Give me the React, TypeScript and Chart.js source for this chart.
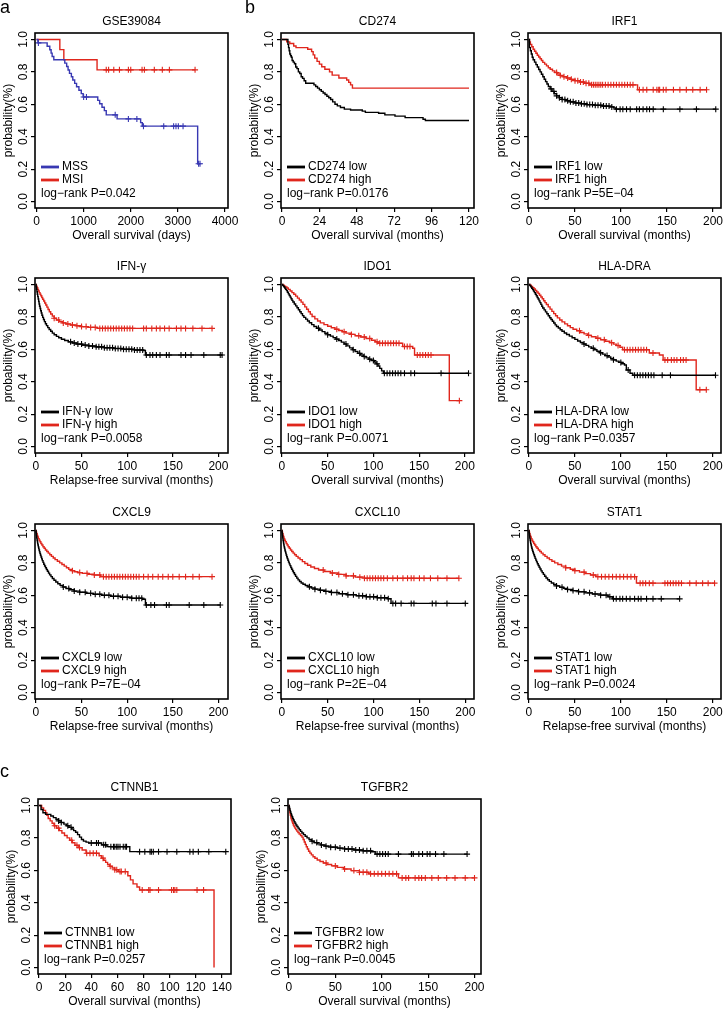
import React, { useEffect, useRef } from 'react';
import { Chart, registerables } from 'chart.js';

Chart.register(...registerables);

const FONT = '"Liberation Sans", Arial, Helvetica, sans-serif';
const RED = '#e0261c';
const BLACK = '#000000';
const BLUE = '#3838b2';

// ---------------- tick values ----------------
const Y_TICKS = [0, 0.2, 0.4, 0.6, 0.8, 1.0];
const DAYS_TICKS = [0, 1000, 2000, 3000, 4000];
const CD274_TICKS = [0, 24, 48, 72, 96, 120];
const MONTH200_TICKS = [0, 50, 100, 150, 200];
const CTNNB1_TICKS = [0, 20, 40, 60, 80, 100, 120, 140];

// ---------------- GSE39084 ----------------
const GSE_MSS_T = [30, 226, 282, 310, 332, 367, 600, 640, 670, 700, 740, 770, 810, 850, 900, 950, 990, 1300, 1340, 1390, 1440, 1480, 1710, 2210, 2245, 3420];
const GSE_MSS_S = [0.979, 0.958, 0.937, 0.916, 0.895, 0.875, 0.854, 0.833, 0.812, 0.791, 0.77, 0.75, 0.729, 0.708, 0.687, 0.666, 0.645, 0.624, 0.603, 0.582, 0.561, 0.535, 0.51, 0.487, 0.465, 0.233];
const GSE_MSS_C = [40, 1000, 1060, 1670, 1950, 2130, 2270, 2700, 2910, 2960, 3010, 3110, 3440, 3470];
const GSE_MSS_END = 3470;
const GSE_MSI_T = [495, 580, 1285];
const GSE_MSI_S = [0.9375, 0.875, 0.8125];
const GSE_MSI_C = [1480, 1530, 1640, 1760, 1950, 2000, 2240, 2290, 2500, 2670, 2820, 3365];
const GSE_MSI_END = 3365;

// ---------------- CD274 ----------------
const CD274_LOW_T = [3.8, 4.2, 4.6, 5.0, 5.5, 6.0, 6.5, 7.2, 8.0, 8.8, 9.6, 10.5, 11.4, 12.3, 13.2, 14.2, 15.2, 20.5, 21.6, 22.8, 24.0, 25.2, 26.4, 27.6, 28.8, 30.0, 31.2, 32.5, 34.0, 35.5, 37.5, 40.0, 44.0, 51.5, 53.5, 62.0, 66.0, 72.5, 79.0, 90.5, 92.0];
const CD274_LOW_S = [0.97, 0.95, 0.93, 0.91, 0.9, 0.89, 0.87, 0.86, 0.85, 0.83, 0.82, 0.8, 0.79, 0.77, 0.76, 0.745, 0.73, 0.72, 0.71, 0.7, 0.69, 0.68, 0.67, 0.66, 0.65, 0.64, 0.63, 0.615, 0.6, 0.59, 0.58, 0.57, 0.565, 0.558, 0.55, 0.545, 0.535, 0.527, 0.518, 0.508, 0.5];
const CD274_LOW_C: number[] = [];
const CD274_LOW_END = 120;
const CD274_HIGH_T = [3.0, 5.0, 7.5, 9.0, 16.5, 19.0, 20.0, 21.0, 22.5, 24.0, 25.5, 27.5, 30.5, 32.2, 36.5, 41.5, 42.8, 44.0, 45.2];
const CD274_HIGH_S = [0.985, 0.975, 0.96, 0.95, 0.94, 0.925, 0.905, 0.885, 0.865, 0.848, 0.832, 0.816, 0.8, 0.78, 0.762, 0.75, 0.735, 0.72, 0.7];
const CD274_HIGH_C: number[] = [];
const CD274_HIGH_END = 120;

// ---------------- IRF1 ----------------
const IRF1_LOW_T = [0.5, 1.5, 2.5, 3.5, 4.5, 6, 7.5, 9, 10.5, 12, 13.5, 15, 16.5, 18, 19.5, 21, 23, 25, 27.5, 30, 33, 36, 40, 45, 50, 56, 63, 71, 80, 88, 92, 94];
const IRF1_LOW_S = [0.95, 0.93, 0.91, 0.89, 0.875, 0.86, 0.845, 0.83, 0.815, 0.8, 0.785, 0.77, 0.755, 0.74, 0.725, 0.71, 0.695, 0.68, 0.665, 0.652, 0.64, 0.63, 0.622, 0.615, 0.608, 0.603, 0.598, 0.594, 0.589, 0.584, 0.578, 0.57];
const IRF1_LOW_C = [24, 27, 30, 33, 36, 39, 42, 45, 48, 51, 54, 57, 60, 63, 66, 69, 72, 75, 78, 81, 84, 87, 90, 95, 99, 102, 106, 110, 117, 120, 124, 128, 131, 135, 146, 164, 182, 203];
const IRF1_LOW_END = 203;
const IRF1_HIGH_T = [0.5, 1.5, 3, 4.5, 6, 7.5, 9, 10.5, 12, 13.5, 15, 17, 19, 21, 23, 25.5, 28, 31, 34, 37, 41, 45, 50, 55, 60, 66, 118];
const IRF1_HIGH_S = [0.985, 0.97, 0.955, 0.94, 0.927, 0.915, 0.903, 0.892, 0.881, 0.87, 0.859, 0.848, 0.837, 0.826, 0.816, 0.806, 0.796, 0.787, 0.778, 0.77, 0.762, 0.754, 0.746, 0.738, 0.73, 0.72, 0.69];
const IRF1_HIGH_C = [30, 34, 38, 42, 46, 50, 53, 56, 59, 62, 65, 68, 70, 72, 74, 76, 78, 80, 83, 86, 89, 92, 95, 98, 101, 104, 107, 110, 113, 120, 124, 128, 135, 139, 141, 142, 146, 149, 157, 164, 171, 178, 186, 193];
const IRF1_HIGH_END = 193;

// ---------------- IFN-γ ----------------
const IFNG_LOW_T = [0.3, 0.7, 1.1, 1.5, 2.0, 2.5, 3.0, 3.5, 4.0, 4.6, 5.2, 5.9, 6.6, 7.4, 8.3, 9.3, 10.4, 11.6, 13, 14.5, 16.2, 18, 20, 22.5, 25, 28, 31.5, 35.5, 40, 45, 51, 58, 66, 75, 85, 96, 108, 118, 120];
const IFNG_LOW_S = [0.985, 0.97, 0.955, 0.94, 0.925, 0.91, 0.895, 0.88, 0.866, 0.852, 0.838, 0.824, 0.81, 0.797, 0.784, 0.771, 0.758, 0.746, 0.734, 0.722, 0.711, 0.7, 0.69, 0.68, 0.671, 0.662, 0.654, 0.646, 0.639, 0.632, 0.626, 0.62, 0.615, 0.61, 0.605, 0.6, 0.596, 0.592, 0.565];
const IFNG_LOW_C = [38, 42, 46, 50, 54, 58, 62, 66, 69, 72, 75, 78, 81, 84, 87, 90, 93, 96, 99, 102, 105, 108, 111, 114, 117, 121, 125, 128, 132, 136, 143, 146, 159, 164, 170, 184, 202, 204];
const IFNG_LOW_END = 204;
const IFNG_HIGH_T = [0.5, 1.2, 2.0, 2.8, 3.6, 4.5, 5.4, 6.4, 7.4, 8.5, 9.6, 10.8, 12, 13.3, 14.7, 16.2, 18, 20, 22.5, 25.5, 29, 33, 38, 44, 50, 57, 67];
const IFNG_HIGH_S = [0.99, 0.98, 0.97, 0.96, 0.95, 0.94, 0.93, 0.92, 0.909, 0.898, 0.886, 0.873, 0.86, 0.846, 0.832, 0.818, 0.805, 0.792, 0.781, 0.771, 0.763, 0.756, 0.75, 0.745, 0.74, 0.735, 0.729];
const IFNG_HIGH_C = [20, 25, 30, 35, 40, 45, 50, 55, 60, 65, 70, 73, 76, 79, 82, 85, 88, 91, 94, 97, 100, 103, 106, 118, 121, 127, 132, 136, 141, 146, 154, 159, 164, 172, 182, 193];
const IFNG_HIGH_END = 193;

// ---------------- IDO1 ----------------
const IDO1_LOW_T = [1, 2, 3, 4, 5, 6, 7, 8, 9, 10, 11, 12, 13.5, 15, 16.5, 18, 19.5, 21, 22.5, 24, 26, 28, 30, 32.5, 35, 38, 41, 44, 47, 50, 53, 56, 59, 62, 65, 68, 71, 74, 77, 80, 83, 86, 89, 92, 95, 98, 101, 103, 105, 107, 109, 111];
const IDO1_LOW_S = [0.993, 0.986, 0.978, 0.97, 0.962, 0.952, 0.942, 0.932, 0.922, 0.912, 0.902, 0.892, 0.88, 0.868, 0.856, 0.844, 0.832, 0.82, 0.808, 0.797, 0.786, 0.775, 0.764, 0.752, 0.741, 0.73, 0.719, 0.709, 0.699, 0.69, 0.681, 0.672, 0.663, 0.654, 0.644, 0.633, 0.621, 0.609, 0.597, 0.586, 0.575, 0.565, 0.556, 0.547, 0.539, 0.531, 0.522, 0.51, 0.497, 0.482, 0.467, 0.452];
const IDO1_LOW_C = [40, 50, 60, 70, 78, 85, 90, 96, 100, 104, 112, 115, 118, 121, 124, 127, 130, 134, 141, 145, 174, 204];
const IDO1_LOW_END = 204;
const IDO1_HIGH_T = [1, 2.5, 4, 5.5, 7, 9, 11, 13, 15, 17, 19, 21, 23, 25, 27, 29, 31, 33, 36, 39, 42, 46, 50, 54, 58, 62, 66, 70, 75, 80, 86, 92, 98, 102, 105, 132, 143, 145, 183];
const IDO1_HIGH_S = [0.995, 0.99, 0.985, 0.978, 0.97, 0.96, 0.95, 0.94, 0.928, 0.916, 0.904, 0.891, 0.877, 0.862, 0.847, 0.832, 0.817, 0.802, 0.788, 0.775, 0.763, 0.752, 0.742, 0.733, 0.724, 0.716, 0.708, 0.7, 0.692, 0.684, 0.676, 0.667, 0.656, 0.646, 0.637, 0.617, 0.606, 0.565, 0.283];
const IDO1_HIGH_C = [60, 68, 76, 84, 90, 96, 104, 107, 110, 113, 116, 119, 122, 125, 128, 134, 137, 140, 148, 151, 154, 157, 160, 163, 194];
const IDO1_HIGH_END = 194;

// ---------------- HLA-DRA ----------------
const HLA_LOW_T = [1, 2, 3, 4, 5, 6, 7, 8, 9, 10, 11, 12, 13, 14, 15, 16.5, 18, 19.5, 21, 22.5, 24, 25.5, 27, 28.5, 30, 32, 34, 36, 38.5, 41, 44, 47, 50, 53, 56, 59, 62, 65, 68, 71, 74, 77, 80, 83, 86, 89, 92, 95, 98, 101, 104, 106, 110, 113];
const HLA_LOW_S = [0.993, 0.985, 0.977, 0.968, 0.959, 0.95, 0.94, 0.93, 0.92, 0.91, 0.899, 0.888, 0.877, 0.866, 0.855, 0.843, 0.831, 0.819, 0.807, 0.795, 0.784, 0.773, 0.762, 0.751, 0.741, 0.731, 0.721, 0.711, 0.701, 0.691, 0.681, 0.671, 0.661, 0.651, 0.642, 0.633, 0.624, 0.615, 0.606, 0.597, 0.588, 0.579, 0.57, 0.561, 0.552, 0.543, 0.535, 0.527, 0.519, 0.511, 0.503, 0.472, 0.452, 0.44];
const HLA_LOW_C = [60, 70, 78, 85, 92, 100, 108, 115, 118, 121, 124, 127, 130, 133, 136, 145, 154, 203];
const HLA_LOW_END = 203;
const HLA_HIGH_T = [1, 2.5, 4, 5.5, 7, 8.5, 10, 11.5, 13, 14.5, 16, 17.5, 19, 21, 23, 25, 27, 29, 31, 33.5, 36, 39, 42, 45, 48, 52, 56, 60, 64, 68, 73, 78, 83, 88, 92, 95, 99, 102, 131, 142, 146, 182];
const HLA_HIGH_S = [0.995, 0.988, 0.98, 0.972, 0.963, 0.954, 0.944, 0.934, 0.923, 0.912, 0.9, 0.888, 0.876, 0.862, 0.848, 0.834, 0.82, 0.807, 0.794, 0.781, 0.769, 0.757, 0.745, 0.734, 0.724, 0.714, 0.704, 0.695, 0.686, 0.677, 0.668, 0.659, 0.65, 0.641, 0.632, 0.623, 0.613, 0.597, 0.577, 0.565, 0.534, 0.35];
const HLA_HIGH_C = [55, 65, 75, 82, 90, 97, 104, 107, 110, 113, 116, 119, 122, 125, 128, 135, 148, 151, 155, 158, 161, 165, 168, 171, 186, 193];
const HLA_HIGH_END = 193;

// ---------------- CXCL9 ----------------
const CXCL9_LOW_T = [0.2, 0.4, 0.6, 0.8, 1.0, 1.3, 1.6, 1.9, 2.2, 2.6, 3.0, 3.4, 3.9, 4.4, 5.0, 5.6, 6.3, 7.0, 7.8, 8.6, 9.5, 10.5, 11.5, 12.6, 13.8, 15, 16.5, 18, 19.8, 21.8, 24, 26.5, 29.5, 33, 37, 42, 48, 55, 63, 72, 82, 93, 105, 117, 120];
const CXCL9_LOW_S = [0.99, 0.98, 0.97, 0.96, 0.95, 0.94, 0.93, 0.92, 0.91, 0.9, 0.89, 0.88, 0.869, 0.858, 0.847, 0.836, 0.825, 0.814, 0.803, 0.792, 0.781, 0.77, 0.759, 0.748, 0.737, 0.726, 0.715, 0.704, 0.693, 0.682, 0.671, 0.661, 0.651, 0.642, 0.634, 0.626, 0.619, 0.612, 0.606, 0.6, 0.594, 0.588, 0.582, 0.576, 0.54];
const CXCL9_LOW_C = [30, 36, 42, 48, 54, 60, 65, 70, 75, 80, 85, 90, 95, 100, 105, 110, 113, 116, 121, 126, 130, 143, 146, 168, 184, 202];
const CXCL9_LOW_END = 202;
const CXCL9_HIGH_T = [0.3, 0.8, 1.4, 2.0, 2.7, 3.5, 4.4, 5.4, 6.5, 7.7, 9, 10.4, 11.9, 13.5, 15.2, 17, 19, 21, 23.5, 26, 28.5, 31, 33.5, 36, 39, 42, 46, 51, 57, 64, 71];
const CXCL9_HIGH_S = [0.99, 0.98, 0.97, 0.96, 0.95, 0.94, 0.93, 0.92, 0.91, 0.9, 0.89, 0.88, 0.87, 0.86, 0.85, 0.84, 0.83, 0.82, 0.81, 0.8, 0.79, 0.78, 0.77, 0.76, 0.752, 0.745, 0.74, 0.735, 0.73, 0.725, 0.715];
const CXCL9_HIGH_C = [40, 48, 56, 64, 70, 74, 77, 80, 83, 86, 89, 92, 95, 98, 101, 104, 107, 110, 113, 118, 123, 128, 134, 139, 145, 150, 157, 164, 172, 179, 193];
const CXCL9_HIGH_END = 193;

// ---------------- CXCL10 ----------------
const CXCL10_LOW_T = [0.2, 0.4, 0.6, 0.8, 1.0, 1.2, 1.5, 1.8, 2.1, 2.4, 2.8, 3.2, 3.6, 4.1, 4.6, 5.2, 5.8, 6.5, 7.2, 8.0, 8.8, 9.7, 10.6, 11.6, 12.6, 13.7, 14.9, 16.2, 17.6, 19.2, 21, 23, 25.5, 28.5, 32, 36, 41, 47, 54, 62, 71, 81, 92, 104, 115, 119];
const CXCL10_LOW_S = [0.99, 0.98, 0.97, 0.96, 0.95, 0.94, 0.93, 0.92, 0.91, 0.9, 0.89, 0.88, 0.87, 0.86, 0.849, 0.838, 0.827, 0.816, 0.805, 0.794, 0.783, 0.772, 0.761, 0.75, 0.739, 0.728, 0.717, 0.706, 0.695, 0.685, 0.676, 0.668, 0.66, 0.652, 0.645, 0.638, 0.631, 0.624, 0.617, 0.61, 0.603, 0.597, 0.591, 0.585, 0.579, 0.55];
const CXCL10_LOW_C = [30, 36, 42, 48, 54, 60, 66, 72, 78, 84, 88, 92, 96, 100, 104, 108, 112, 116, 121, 124, 130, 141, 144, 164, 168, 180, 200];
const CXCL10_LOW_END = 200;
const CXCL10_HIGH_T = [0.3, 0.7, 1.2, 1.7, 2.3, 3.0, 3.8, 4.7, 5.7, 6.8, 8.0, 9.3, 10.7, 12.2, 13.8, 15.6, 17.6, 19.8, 22.3, 25, 28, 31.5, 35.5, 40, 46, 53, 61, 70, 80, 90];
const CXCL10_HIGH_S = [0.99, 0.98, 0.97, 0.96, 0.95, 0.94, 0.93, 0.92, 0.91, 0.9, 0.89, 0.88, 0.87, 0.86, 0.85, 0.84, 0.83, 0.82, 0.808, 0.796, 0.785, 0.775, 0.765, 0.756, 0.747, 0.738, 0.729, 0.72, 0.712, 0.705];
const CXCL10_HIGH_C = [45, 55, 62, 70, 78, 85, 90, 93, 96, 99, 102, 105, 108, 111, 115, 121, 126, 132, 137, 141, 144, 150, 155, 162, 170, 180, 193];
const CXCL10_HIGH_END = 193;

// ---------------- STAT1 ----------------
const STAT1_LOW_T = [0.2, 0.4, 0.6, 0.8, 1.0, 1.3, 1.6, 1.9, 2.3, 2.7, 3.1, 3.6, 4.1, 4.7, 5.3, 6.0, 6.7, 7.5, 8.3, 9.2, 10.1, 11.1, 12.1, 13.2, 14.4, 15.7, 17.1, 18.6, 20.3, 22.2, 24.4, 27, 30, 33.5, 37.5, 42, 47.5, 54, 61, 69, 78, 86, 91];
const STAT1_LOW_S = [0.99, 0.98, 0.97, 0.96, 0.95, 0.94, 0.93, 0.92, 0.91, 0.9, 0.89, 0.88, 0.87, 0.86, 0.85, 0.839, 0.828, 0.817, 0.806, 0.795, 0.784, 0.773, 0.762, 0.751, 0.74, 0.729, 0.718, 0.707, 0.696, 0.686, 0.676, 0.667, 0.658, 0.65, 0.643, 0.636, 0.629, 0.622, 0.615, 0.608, 0.601, 0.591, 0.578];
const STAT1_LOW_C = [30, 36, 42, 48, 54, 60, 66, 72, 78, 84, 88, 92, 95, 99, 102, 106, 110, 115, 119, 122, 128, 135, 144, 164];
const STAT1_LOW_END = 164;
const STAT1_HIGH_T = [0.3, 0.7, 1.2, 1.8, 2.5, 3.3, 4.2, 5.2, 6.3, 7.5, 8.8, 10.2, 11.8, 13.5, 15.4, 17.5, 19.8, 22.3, 25, 28, 31.5, 35.5, 40, 45, 50, 55, 61, 67, 73, 117];
const STAT1_HIGH_S = [0.99, 0.98, 0.97, 0.96, 0.95, 0.94, 0.93, 0.92, 0.91, 0.9, 0.89, 0.88, 0.87, 0.86, 0.85, 0.84, 0.83, 0.82, 0.81, 0.8, 0.79, 0.78, 0.77, 0.761, 0.752, 0.743, 0.734, 0.725, 0.715, 0.675];
const STAT1_HIGH_C = [40, 50, 60, 70, 75, 79, 83, 87, 91, 95, 99, 103, 107, 111, 115, 121, 124, 127, 131, 135, 148, 151, 154, 157, 160, 163, 166, 175, 182, 189, 195, 202];
const STAT1_HIGH_END = 202;

// ---------------- CTNNB1 ----------------
const CTNNB1_LOW_T = [1.5, 3, 5, 9, 11, 13, 15, 17, 19, 21, 23, 25, 26.5, 28, 29.5, 31, 32.5, 34, 36, 38, 48, 52, 69.5];
const CTNNB1_LOW_S = [0.975, 0.955, 0.945, 0.935, 0.925, 0.915, 0.905, 0.895, 0.885, 0.875, 0.865, 0.855, 0.845, 0.835, 0.82, 0.805, 0.79, 0.78, 0.774, 0.768, 0.757, 0.746, 0.715];
const CTNNB1_LOW_C = [15, 17, 22, 24.5, 40, 44, 45.5, 49.5, 51, 55, 57, 58, 59.5, 60.5, 62, 64.5, 66, 67, 77, 81, 85, 86, 87.5, 91.5, 98, 105.5, 115.5, 118, 122, 130, 143];
const CTNNB1_LOW_END = 143;
const CTNNB1_HIGH_T = [2, 3.5, 5, 6, 7, 8.5, 10, 11.5, 13.5, 15.5, 17.5, 19.5, 21.5, 23.5, 25.5, 27.5, 30, 33, 36, 46, 48, 49.5, 51, 52.5, 54, 56, 58, 61, 68, 70, 72, 75, 77, 134];
const CTNNB1_HIGH_S = [0.985, 0.97, 0.955, 0.94, 0.92, 0.905, 0.89, 0.875, 0.86, 0.845, 0.83, 0.815, 0.8, 0.785, 0.77, 0.755, 0.74, 0.725, 0.705, 0.69, 0.675, 0.662, 0.649, 0.636, 0.625, 0.614, 0.603, 0.592, 0.566, 0.541, 0.516, 0.497, 0.478, 0];
const CTNNB1_HIGH_C = [12, 15, 25, 29, 31, 36.5, 39, 41.5, 44, 49, 54.5, 58, 59.5, 62, 63, 66, 79, 84, 85, 91.5, 101.5, 103, 104, 105.5, 121, 126];
const CTNNB1_HIGH_END = 134;

// ---------------- TGFBR2 ----------------
const TGFBR2_LOW_T = [0.3, 0.7, 1.1, 1.6, 2.1, 2.7, 3.3, 4.0, 4.8, 5.6, 6.5, 7.5, 8.6, 9.8, 11.1, 12.5, 14, 15.7, 17.5, 19.5, 21.7, 24.2, 27, 30.5, 34.5, 39, 45, 52, 60, 70, 80, 89, 93];
const TGFBR2_LOW_S = [0.99, 0.98, 0.97, 0.96, 0.95, 0.94, 0.93, 0.92, 0.91, 0.9, 0.89, 0.88, 0.87, 0.86, 0.85, 0.84, 0.83, 0.82, 0.81, 0.8, 0.79, 0.78, 0.771, 0.763, 0.756, 0.749, 0.743, 0.737, 0.731, 0.725, 0.72, 0.714, 0.7];
const TGFBR2_LOW_C = [25, 30, 35, 40, 45, 50, 55, 60, 64, 68, 72, 76, 80, 84, 88, 95, 98, 101, 104, 107, 118, 132, 134, 140, 144, 149, 152, 158, 167, 192];
const TGFBR2_LOW_END = 192;
const TGFBR2_HIGH_T = [0.2, 0.4, 0.6, 0.9, 1.2, 1.5, 1.9, 2.3, 2.8, 3.4, 4.0, 4.7, 5.5, 6.4, 7.4, 8.5, 9.7, 11, 12.5, 14, 15.3, 16.5, 17.6, 18.7, 19.9, 21.2, 22.6, 24.2, 26, 28, 30.5, 33.5, 37, 41, 46, 52, 59, 67, 76, 86, 118];
const TGFBR2_HIGH_S = [0.99, 0.98, 0.97, 0.96, 0.95, 0.94, 0.93, 0.92, 0.91, 0.9, 0.89, 0.88, 0.87, 0.86, 0.851, 0.842, 0.833, 0.824, 0.815, 0.805, 0.79, 0.775, 0.76, 0.745, 0.731, 0.718, 0.706, 0.695, 0.684, 0.674, 0.664, 0.654, 0.645, 0.636, 0.627, 0.618, 0.608, 0.598, 0.588, 0.578, 0.553];
const TGFBR2_HIGH_C = [40, 50, 60, 70, 76, 80, 84, 88, 92, 96, 100, 104, 108, 112, 116, 122, 126, 129, 136, 140, 143, 147, 154, 161, 170, 179, 190, 200];
const TGFBR2_HIGH_END = 200;

// ---------------- panel setup ----------------
type Curve = { label: string; color: string; t: number[]; s: number[]; c: number[]; end: number };
type PanelCfg = {
  id: string; title: string; boxLeft: number; boxTop: number;
  xMin: number; xMax: number; xTicks: number[]; xTitle: string;
  curves: Curve[]; pText: string;
};

const OS_M = 'Overall survival (months)';
const RFS_M = 'Relapse-free survival (months)';

const PANELS: PanelCfg[] = [
  { id: 'gse', title: 'GSE39084', boxLeft: 35, boxTop: 33, xMin: -32, xMax: 4064, xTicks: DAYS_TICKS, xTitle: 'Overall survival (days)', pText: 'log\u2212rank P=0.042',
    curves: [
      { label: 'MSS', color: BLUE, t: GSE_MSS_T, s: GSE_MSS_S, c: GSE_MSS_C, end: GSE_MSS_END },
      { label: 'MSI', color: RED, t: GSE_MSI_T, s: GSE_MSI_S, c: GSE_MSI_C, end: GSE_MSI_END },
    ] },
  { id: 'cd274', title: 'CD274', boxLeft: 281, boxTop: 33, xMin: -0.64, xMax: 123.2, xTicks: CD274_TICKS, xTitle: OS_M, pText: 'log\u2212rank P=0.0176',
    curves: [
      { label: 'CD274 low', color: BLACK, t: CD274_LOW_T, s: CD274_LOW_S, c: CD274_LOW_C, end: CD274_LOW_END },
      { label: 'CD274 high', color: RED, t: CD274_HIGH_T, s: CD274_HIGH_S, c: CD274_HIGH_C, end: CD274_HIGH_END },
    ] },
  { id: 'irf1', title: 'IRF1', boxLeft: 528, boxTop: 33, xMin: -1.1, xMax: 208.7, xTicks: MONTH200_TICKS, xTitle: OS_M, pText: 'log\u2212rank P=5E\u221204',
    curves: [
      { label: 'IRF1 low', color: BLACK, t: IRF1_LOW_T, s: IRF1_LOW_S, c: IRF1_LOW_C, end: IRF1_LOW_END },
      { label: 'IRF1 high', color: RED, t: IRF1_HIGH_T, s: IRF1_HIGH_S, c: IRF1_HIGH_C, end: IRF1_HIGH_END },
    ] },
  { id: 'ifng', title: 'IFN-\u03b3', boxLeft: 35, boxTop: 278, xMin: -1, xMax: 210.5, xTicks: MONTH200_TICKS, xTitle: RFS_M, pText: 'log\u2212rank P=0.0058',
    curves: [
      { label: 'IFN-\u03b3 low', color: BLACK, t: IFNG_LOW_T, s: IFNG_LOW_S, c: IFNG_LOW_C, end: IFNG_LOW_END },
      { label: 'IFN-\u03b3 high', color: RED, t: IFNG_HIGH_T, s: IFNG_HIGH_S, c: IFNG_HIGH_C, end: IFNG_HIGH_END },
    ] },
  { id: 'ido1', title: 'IDO1', boxLeft: 281, boxTop: 278, xMin: -1, xMax: 210, xTicks: MONTH200_TICKS, xTitle: OS_M, pText: 'log\u2212rank P=0.0071',
    curves: [
      { label: 'IDO1 low', color: BLACK, t: IDO1_LOW_T, s: IDO1_LOW_S, c: IDO1_LOW_C, end: IDO1_LOW_END },
      { label: 'IDO1 high', color: RED, t: IDO1_HIGH_T, s: IDO1_HIGH_S, c: IDO1_HIGH_C, end: IDO1_HIGH_END },
    ] },
  { id: 'hla', title: 'HLA-DRA', boxLeft: 528, boxTop: 278, xMin: -1, xMax: 209, xTicks: MONTH200_TICKS, xTitle: OS_M, pText: 'log\u2212rank P=0.0357',
    curves: [
      { label: 'HLA-DRA low', color: BLACK, t: HLA_LOW_T, s: HLA_LOW_S, c: HLA_LOW_C, end: HLA_LOW_END },
      { label: 'HLA-DRA high', color: RED, t: HLA_HIGH_T, s: HLA_HIGH_S, c: HLA_HIGH_C, end: HLA_HIGH_END },
    ] },
  { id: 'cxcl9', title: 'CXCL9', boxLeft: 35, boxTop: 524, xMin: -1, xMax: 210.5, xTicks: MONTH200_TICKS, xTitle: RFS_M, pText: 'log\u2212rank P=7E\u221204',
    curves: [
      { label: 'CXCL9 low', color: BLACK, t: CXCL9_LOW_T, s: CXCL9_LOW_S, c: CXCL9_LOW_C, end: CXCL9_LOW_END },
      { label: 'CXCL9 high', color: RED, t: CXCL9_HIGH_T, s: CXCL9_HIGH_S, c: CXCL9_HIGH_C, end: CXCL9_HIGH_END },
    ] },
  { id: 'cxcl10', title: 'CXCL10', boxLeft: 281, boxTop: 524, xMin: -1, xMax: 209.5, xTicks: MONTH200_TICKS, xTitle: RFS_M, pText: 'log\u2212rank P=2E\u221204',
    curves: [
      { label: 'CXCL10 low', color: BLACK, t: CXCL10_LOW_T, s: CXCL10_LOW_S, c: CXCL10_LOW_C, end: CXCL10_LOW_END },
      { label: 'CXCL10 high', color: RED, t: CXCL10_HIGH_T, s: CXCL10_HIGH_S, c: CXCL10_HIGH_C, end: CXCL10_HIGH_END },
    ] },
  { id: 'stat1', title: 'STAT1', boxLeft: 528, boxTop: 524, xMin: -1, xMax: 209, xTicks: MONTH200_TICKS, xTitle: RFS_M, pText: 'log\u2212rank P=0.0024',
    curves: [
      { label: 'STAT1 low', color: BLACK, t: STAT1_LOW_T, s: STAT1_LOW_S, c: STAT1_LOW_C, end: STAT1_LOW_END },
      { label: 'STAT1 high', color: RED, t: STAT1_HIGH_T, s: STAT1_HIGH_S, c: STAT1_HIGH_C, end: STAT1_HIGH_END },
    ] },
  { id: 'ctnnb1', title: 'CTNNB1', boxLeft: 38, boxTop: 799, xMin: -0.8, xMax: 147, xTicks: CTNNB1_TICKS, xTitle: OS_M, pText: 'log\u2212rank P=0.0257',
    curves: [
      { label: 'CTNNB1 low', color: BLACK, t: CTNNB1_LOW_T, s: CTNNB1_LOW_S, c: CTNNB1_LOW_C, end: CTNNB1_LOW_END },
      { label: 'CTNNB1 high', color: RED, t: CTNNB1_HIGH_T, s: CTNNB1_HIGH_S, c: CTNNB1_HIGH_C, end: CTNNB1_HIGH_END },
    ] },
  { id: 'tgfbr2', title: 'TGFBR2', boxLeft: 288, boxTop: 799, xMin: -1, xMax: 207, xTicks: MONTH200_TICKS, xTitle: OS_M, pText: 'log\u2212rank P=0.0045',
    curves: [
      { label: 'TGFBR2 low', color: BLACK, t: TGFBR2_LOW_T, s: TGFBR2_LOW_S, c: TGFBR2_LOW_C, end: TGFBR2_LOW_END },
      { label: 'TGFBR2 high', color: RED, t: TGFBR2_HIGH_T, s: TGFBR2_HIGH_S, c: TGFBR2_HIGH_C, end: TGFBR2_HIGH_END },
    ] },
];

// geometry of each canvas around its plot box
const Y_AXIS_W = 34;
const X_AXIS_H = 35;
const TITLE_H = 21;
const BOX_W = 193;
const BOX_H = 175;
const PAD_R = 16;
const CANVAS_W = Y_AXIS_W + BOX_W + PAD_R;
const CANVAS_H = TITLE_H + BOX_H + X_AXIS_H;

function kmPoints(c: Curve) {
  const pts = [{ x: 0, y: 1 }];
  c.t.forEach((x, i) => pts.push({ x, y: c.s[i] }));
  const last = c.t.length ? c.t[c.t.length - 1] : 0;
  if (c.end > last) pts.push({ x: c.end, y: c.s.length ? c.s[c.s.length - 1] : 1 });
  return pts;
}

function survAt(c: Curve, x: number) {
  let y = 1;
  for (let i = 0; i < c.t.length; i++) if (c.t[i] <= x) y = c.s[i];
  return y;
}

const framePlugin = {
  id: 'kmFrame',
  afterDatasetsDraw(chart: any) {
    const { ctx, chartArea: a } = chart;
    ctx.save();
    ctx.strokeStyle = '#000';
    ctx.lineWidth = 1.6;
    ctx.strokeRect(a.left, a.top, a.right - a.left, a.bottom - a.top);
    ctx.restore();
  },
};

function makeLegendPlugin(cfg: PanelCfg) {
  return {
    id: 'kmLegend',
    afterDraw(chart: any) {
      const { ctx, chartArea: a } = chart;
      ctx.save();
      ctx.font = `12px ${FONT}`;
      ctx.textBaseline = 'middle';
      ctx.textAlign = 'left';
      cfg.curves.forEach((c, i) => {
        const y = a.bottom - 41 + i * 13;
        ctx.strokeStyle = c.color;
        ctx.lineWidth = 2.8;
        ctx.beginPath();
        ctx.moveTo(a.left + 6, y);
        ctx.lineTo(a.left + 24, y);
        ctx.stroke();
        ctx.fillStyle = '#000';
        ctx.fillText(c.label, a.left + 27, y);
      });
      ctx.fillStyle = '#000';
      ctx.fillText(cfg.pText, a.left + 6, a.bottom - 14);
      ctx.restore();
    },
  };
}

function buildConfig(cfg: PanelCfg): any {
  const datasets: any[] = [];
  cfg.curves.forEach((c) => {
    datasets.push({
      label: c.label,
      data: kmPoints(c),
      borderColor: c.color,
      backgroundColor: c.color,
      borderWidth: 1.4,
      pointRadius: 0,
      stepped: true,
      fill: false,
      tension: 0,
    });
    datasets.push({
      label: c.label + ' censored',
      data: c.c.map((x) => ({ x, y: survAt(c, x) })),
      showLine: false,
      pointStyle: 'cross',
      pointRadius: 3,
      pointBorderWidth: 1.1,
      pointBorderColor: c.color,
      borderColor: c.color,
      backgroundColor: c.color,
    });
  });
  const tickFont = { family: FONT, size: 12, weight: 'normal' as const };
  return {
    type: 'line',
    data: { datasets },
    options: {
      animation: false,
      responsive: false,
      devicePixelRatio: 1,
      events: [],
      layout: { padding: { left: 0, top: 0, right: PAD_R, bottom: 0 } },
      plugins: {
        legend: { display: false },
        tooltip: { enabled: false },
        title: {
          display: true, text: cfg.title, fullSize: false, color: '#000',
          font: { family: FONT, size: 12, weight: 'normal' },
          padding: { top: 2, bottom: 4.6 },
        },
      },
      scales: {
        x: {
          type: 'linear', position: 'bottom', min: cfg.xMin, max: cfg.xMax, bounds: 'data',
          afterBuildTicks: (sc: any) => { sc.ticks = cfg.xTicks.map((v) => ({ value: v })); },
          afterFit: (sc: any) => { sc.height = X_AXIS_H; },
          grid: { display: true, drawOnChartArea: false, drawTicks: true, tickLength: 4, color: '#000', lineWidth: 1.2 },
          border: { display: false },
          ticks: { color: '#000', font: tickFont, padding: 2, maxRotation: 0, minRotation: 0, autoSkip: false, callback: (v: any) => String(v) },
          title: { display: true, text: cfg.xTitle, color: '#000', font: tickFont, padding: { top: 0, bottom: 0 } },
        },
        y: {
          type: 'linear', position: 'left', min: -0.04, max: 1.04, bounds: 'data',
          afterBuildTicks: (sc: any) => { sc.ticks = Y_TICKS.map((v) => ({ value: v })); },
          afterFit: (sc: any) => { sc.width = Y_AXIS_W; },
          grid: { display: true, drawOnChartArea: false, drawTicks: true, tickLength: 4, color: '#000', lineWidth: 1.2 },
          border: { display: false },
          ticks: { color: '#000', font: tickFont, padding: -1, minRotation: 90, maxRotation: 90, crossAlign: 'center', autoSkip: false, callback: (v: any) => Number(v).toFixed(1) },
          title: { display: true, text: 'probability(%)', color: '#000', font: tickFont, padding: { top: 0, bottom: 0 } },
        },
      },
    },
    plugins: [framePlugin, makeLegendPlugin(cfg)],
  };
}

function KMPanel({ cfg }: { cfg: PanelCfg }) {
  const ref = useRef<HTMLCanvasElement | null>(null);
  useEffect(() => {
    if (!ref.current) return;
    const chart = new Chart(ref.current, buildConfig(cfg));
    return () => chart.destroy();
  }, [cfg]);
  return (
    <canvas
      ref={ref}
      width={CANVAS_W}
      height={CANVAS_H}
      style={{ position: 'absolute', left: cfg.boxLeft - Y_AXIS_W, top: cfg.boxTop - TITLE_H, width: CANVAS_W, height: CANVAS_H }}
    />
  );
}

const labelStyle = (left: number, top: number): React.CSSProperties => ({
  position: 'absolute', left, top, fontFamily: FONT, fontSize: 18, lineHeight: '18px', color: '#000',
});

export default function App() {
  return (
    <div style={{ position: 'fixed', left: 0, top: 0, width: 723, height: 1009, overflow: 'hidden', background: '#fff' }}>
      {PANELS.map((p) => <KMPanel key={p.id} cfg={p} />)}
      <div style={labelStyle(0, -2)}>a</div>
      <div style={labelStyle(245, -2)}>b</div>
      <div style={labelStyle(0, 762)}>c</div>
    </div>
  );
}
